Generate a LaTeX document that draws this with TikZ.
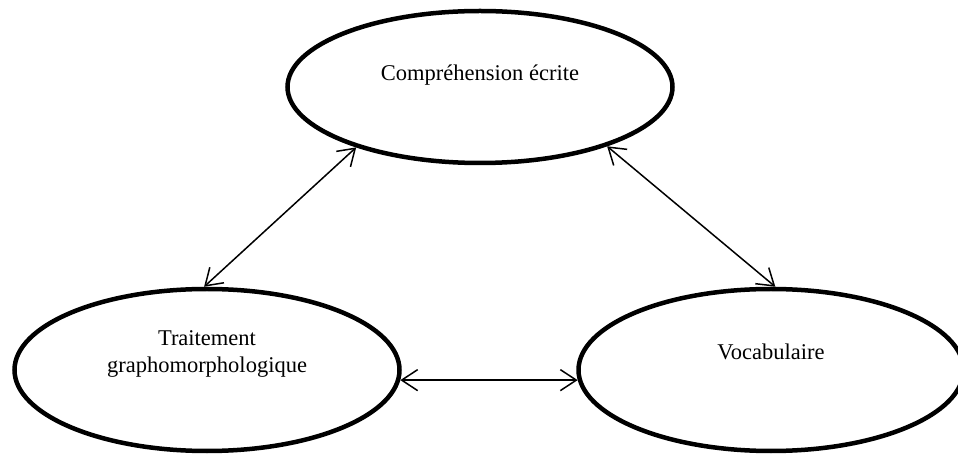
\documentclass[tikz,border=0pt]{standalone}
\usepackage{fontspec}
\setmainfont{Liberation Serif}
\usetikzlibrary{arrows.meta, positioning, shapes.geometric}

\tikzset{
  bubble/.style={ellipse, draw, line width=4.5pt, inner sep=0pt,
    minimum width=385pt, minimum height=152pt},
  lowbubble/.style={bubble, minimum height=162pt},
  txt/.style={font=\fontsize{22.5}{27.5}\selectfont, align=center},
  link/.style={<->, >={Straight Barb[length=16pt,width=21pt]}, line width=1.5pt}
}

\begin{document}
\begin{tikzpicture}[x=1pt, y=1pt, node distance=564pt]
  \useasboundingbox (0,0) rectangle (958,455);
  \node (comp) [bubble, label={[txt, yshift=12pt]center:Compréhension écrite}] at (480,368) {};
  \node (trait) [lowbubble, label={[txt, yshift=16pt]center:{Traitement\\graphomorphologique}}] at (207,85) {};
  \node (vocab) [lowbubble, right of=trait, label={[txt, yshift=18pt]center:Vocabulaire}] {};
  \draw[link] (comp.206) -- (trait.92);
  \draw[link] (comp.335) -- (vocab.87);
  \draw[link] (trait.357) -- (vocab.183);
\end{tikzpicture}
\end{document}
